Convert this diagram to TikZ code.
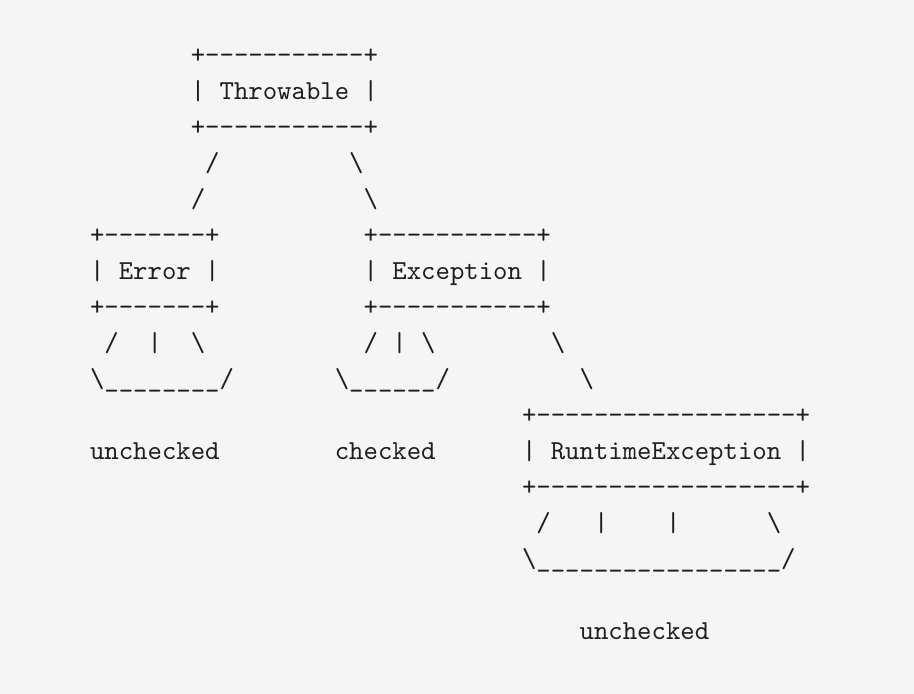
\documentclass[tikz,border=0pt]{standalone}
\usepackage{fontspec}
\newfontfamily\asciifont{lmmono10-regular}[Extension=.otf]
\definecolor{bgcol}{HTML}{F5F5F5}
\definecolor{textcol}{HTML}{1E1E1E}
\tikzset{
  txt/.style={anchor=base west, inner sep=0pt, outer sep=0pt, text=textcol,
    font={\asciifont\fontsize{27.43pt}{36pt}\selectfont}}
}
% #1 name, #2 column, #3 row, #4 text
\newcommand\ascseg[4]{\node[txt] (#1) at ({90pt+14.4pt*#2}, {694pt-64pt-36pt*#3}) {#4};}
\newcommand\bs{\textbackslash}
\begin{document}
\begin{tikzpicture}
\fill[bgcol] (0,0) rectangle (914pt,694pt);
\useasboundingbox (0,0) rectangle (914pt,694pt);
% Throwable
\ascseg{thtop}{7}{0}{+-{}-{}-{}-{}-{}-{}-{}-{}-{}-{}-+}
\ascseg{thmid}{7}{1}{| Throwable |}
\ascseg{thbot}{7}{2}{+-{}-{}-{}-{}-{}-{}-{}-{}-{}-{}-+}
\ascseg{thla}{8}{3}{/}
\ascseg{thra}{18}{3}{\bs}
\ascseg{thlb}{7}{4}{/}
\ascseg{thrb}{19}{4}{\bs}
% Error and Exception
\ascseg{ertop}{0}{5}{+-{}-{}-{}-{}-{}-{}-+}
\ascseg{extop}{19}{5}{+-{}-{}-{}-{}-{}-{}-{}-{}-{}-{}-+}
\ascseg{ermid}{0}{6}{| Error |}
\ascseg{exmid}{19}{6}{| Exception |}
\ascseg{erbot}{0}{7}{+-{}-{}-{}-{}-{}-{}-+}
\ascseg{exbot}{19}{7}{+-{}-{}-{}-{}-{}-{}-{}-{}-{}-{}-+}
% fans
\ascseg{era}{1}{8}{/}
\ascseg{erb}{4}{8}{|}
\ascseg{erc}{7}{8}{\bs}
\ascseg{exa}{19}{8}{/}
\ascseg{exb}{21}{8}{|}
\ascseg{exc}{23}{8}{\bs}
\ascseg{exra}{32}{8}{\bs}
\ascseg{erbase}{0}{9}{\bs\_\_\_\_\_\_\_\_/}
\ascseg{exbase}{17}{9}{\bs\_\_\_\_\_\_/}
\ascseg{exrb}{34}{9}{\bs}
% RuntimeException
\ascseg{rttop}{30}{10}{+-{}-{}-{}-{}-{}-{}-{}-{}-{}-{}-{}-{}-{}-{}-{}-{}-{}-+}
\ascseg{unchA}{0}{11}{unchecked}
\ascseg{chk}{17}{11}{checked}
\ascseg{rtmid}{30}{11}{| RuntimeException |}
\ascseg{rtbot}{30}{12}{+-{}-{}-{}-{}-{}-{}-{}-{}-{}-{}-{}-{}-{}-{}-{}-{}-{}-+}
\ascseg{rta}{31}{13}{/}
\ascseg{rtb}{35}{13}{|}
\ascseg{rtc}{40}{13}{|}
\ascseg{rtd}{47}{13}{\bs}
\ascseg{rtbase}{30}{14}{\bs\_\_\_\_\_\_\_\_\_\_\_\_\_\_\_\_\_/}
\ascseg{unchB}{34}{16}{unchecked}
\end{tikzpicture}
\end{document}
